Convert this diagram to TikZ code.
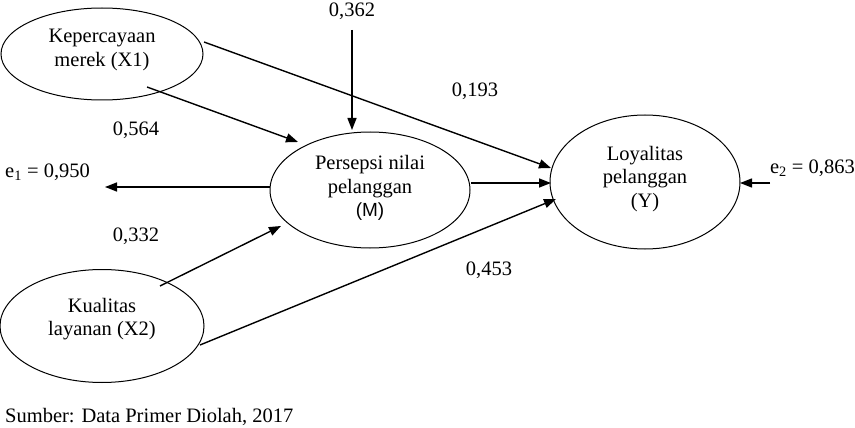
\documentclass[tikz,border=0pt]{standalone}
\usepackage{fontspec}
\setmainfont{Liberation Serif}
\newfontfamily\sansf{Liberation Sans}
\usetikzlibrary{arrows.meta,shapes.geometric}
\tikzset{
  ell/.style={draw, ellipse, line width=1pt, inner sep=0pt},
  lbl/.style={align=center, inner sep=0pt, font=\fontsize{20.5}{23.5}\selectfont},
  num/.style={inner sep=0pt, font=\fontsize{20.5}{23}\selectfont},
  arr/.style={line width=1.4pt, -{Triangle[length=12pt,width=9pt]}},
}
\begin{document}
\begin{tikzpicture}[x=1pt,y=-1pt]
\useasboundingbox (0,0) rectangle (855,428);
% ellipses
\node[ell, minimum width=202pt, minimum height=92pt] (x1) at (102,54) {};
\node[ell, minimum width=204pt, minimum height=113pt] (x2) at (102,326) {};
\node[ell, minimum width=200pt, minimum height=116pt] (m) at (370,190) {};
\node[ell, minimum width=190pt, minimum height=134pt] (y) at (645,182) {};
% texts
\node[lbl] (x1t) at (102,50) {Kepercayaan\\merek (X1)};
\node[lbl] (x2t) at (102,319) {Kualitas\\layanan (X2)};
\node[lbl] (mt) at (370,188) {Persepsi nilai\\pelanggan\\{\sansf\fontsize{19}{23.5}\selectfont(M)}};
\node[lbl] (yt) at (645,179) {Loyalitas\\pelanggan\\(Y)};
% coordinates
\coordinate (c362) at (352,30);
\coordinate (mtop) at (352,130);
\coordinate (x1a) at (147,87);
\coordinate (ma) at (298,142);
\coordinate (x1b) at (204,42);
\coordinate (ya) at (551,168);
\coordinate (ml) at (270,187);
\coordinate (e1e) at (105,187);
\coordinate (mr) at (471,183);
\coordinate (yl) at (551,183);
\coordinate (e2s) at (770,183);
\coordinate (yr) at (740,183);
\coordinate (x2a) at (160,286);
\coordinate (mb) at (281,226);
\coordinate (x2b) at (200,345);
\coordinate (yb) at (556,199);
% arrows
\draw[arr] (c362) -- (mtop);
\draw[arr] (x1a) -- (ma);
\draw[arr] (x1b) -- (ya);
\draw[arr] (ml) -- (e1e);
\draw[arr] (mr) -- (yl);
\draw[arr] (e2s) -- (yr);
\draw[arr] (x2a) -- (mb);
\draw[arr] (x2b) -- (yb);
% numbers
\node[num, anchor=base] (n362) at (352,16.5) {0,362};
\node[num] (n193) at (475,91) {0,193};
\node[num] (n564) at (136,130) {0,564};
\node[num] (n332) at (136,236) {0,332};
\node[num] (n453) at (489,270) {0,453};
\node[num, anchor=west] (e1) at (5,172) {e\textsubscript{1} = 0,950};
\node[num, anchor=east] (e2) at (855,168) {e\textsubscript{2} = 0,863};
\node[num, anchor=base west] (src) at (5,422) {Sumber: Data Primer Diolah, 2017};
\end{tikzpicture}
\end{document}
